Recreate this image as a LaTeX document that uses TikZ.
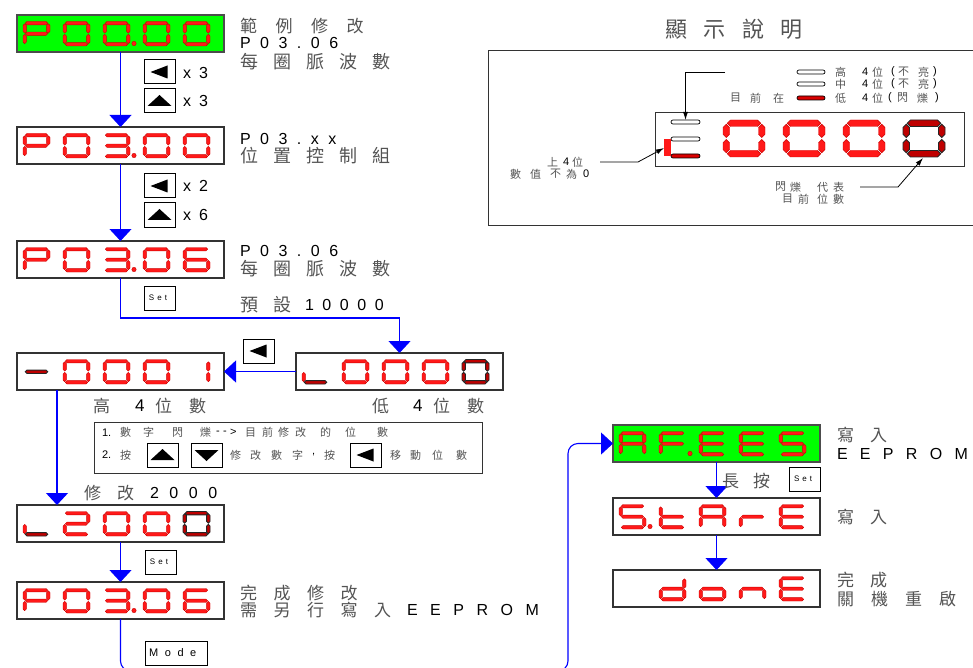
\documentclass[tikz,border=0pt]{standalone}
\usepackage{fontspec}
\setmainfont{Liberation Sans}
\newfontfamily\cjk{Noto Sans CJK TC}
\usetikzlibrary{arrows.meta,calc}
\definecolor{cjkc}{gray}{0.33}
\definecolor{boxc}{gray}{0.2}
\definecolor{segred}{RGB}{255,25,25}
\definecolor{segedge}{RGB}{205,0,0}

\makeatletter
\def\ls@end{\ls@end}
\newcommand\ls[2]{\def\ls@sp{#1}\edef\ls@arg{#2}\expandafter\ls@loop\ls@arg\ls@end}
\def\ls@loop#1{\ifx#1\ls@end\else\ls@char#1\hspace{\ls@sp}\expandafter\ls@loop\fi}
\def\ls@char#1{\ifx#1|\else{\ifnum`#1>"2E7F \cjk\color{cjkc}\fi#1}\fi}
\makeatother
\newcommand\fs[1]{\fontsize{#1}{#1}\selectfont}

% seven segment digits
\newcommand\dsize[4]{\def\dgw{#1}\def\dgh{#2}\def\dgt{#3}\def\dgg{#4}}
\newcommand\hsg[4]{\path[#1] (#3,#2) -- (#3+\hh,#2-\hh) -- (#4-\hh,#2-\hh) -- (#4,#2) -- (#4-\hh,#2+\hh) -- (#3+\hh,#2+\hh) -- cycle;}
\newcommand\vsg[4]{\path[#1] (#2,#3) -- (#2+\hh,#3+\hh) -- (#2+\hh,#4-\hh) -- (#2,#4) -- (#2-\hh,#4-\hh) -- (#2-\hh,#3+\hh) -- cycle;}
\def\sega#1{\hsg{#1}{\yT}{\xa}{\xb}}
\def\segb#1{\vsg{#1}{\xR}{\ya}{\yb}}
\def\segc#1{\vsg{#1}{\xR}{\yc}{\yd}}
\def\segd#1{\hsg{#1}{\yB}{\xa}{\xb}}
\def\sege#1{\vsg{#1}{\xL}{\yc}{\yd}}
\def\segf#1{\vsg{#1}{\xL}{\ya}{\yb}}
\def\segg#1{\hsg{#1}{\yM}{\xa}{\xb}}
\def\segn#1{}
\newcommand\digit[4]{%
 \begin{scope}[shift={(#1,#2)}]
 \pgfmathsetmacro\hh{\dgt/2}\pgfmathsetmacro\xL{\hh}\pgfmathsetmacro\xR{\dgw-\hh}%
 \pgfmathsetmacro\yT{\hh}\pgfmathsetmacro\yM{\dgh/2}\pgfmathsetmacro\yB{\dgh-\hh}%
 \pgfmathsetmacro\xa{\xL+\dgg}\pgfmathsetmacro\xb{\xR-\dgg}%
 \pgfmathsetmacro\ya{\yT+\dgg}\pgfmathsetmacro\yb{\yM-\dgg}%
 \pgfmathsetmacro\yc{\yM+\dgg}\pgfmathsetmacro\yd{\yB-\dgg}%
 \edef\litlist{#3}\edef\flalist{#4}%
 \foreach \s in \litlist {\csname seg\s\endcsname{lit}}
 \foreach \s in \flalist {\csname seg\s\endcsname{flash}}
 \end{scope}}
\newcommand\dpt[2]{\path[lit] (#1,#2) circle (2.2);}
\def\Zr{a,b,c,d,e,f}
\def\Pp{a,b,e,f,g}
\def\Th{a,b,c,d,g}
\def\Sx{a,c,d,e,f,g}
\def\Tw{a,b,d,e,g}
\def\Aa{a,b,c,e,f,g}
\def\Ff{a,e,f,g}
\def\Ee{a,d,e,f,g}
\def\Ss{a,c,d,f,g}
\def\Tt{d,e,f,g}
\def\Rr{e,g}
\def\Dd{b,c,d,e,g}
\def\Oo{c,d,e,g}
\def\Nn{c,e,g}

% buttons
\newcommand\kl[3]{\node[btn] (#1) at (#2,#3) {};
 \fill ($(#1.center)+(-9,0)$) -- ($(#1.center)+(8,-6.5)$) -- ($(#1.center)+(8,6.5)$) -- cycle;}
\newcommand\ku[3]{\node[btn] (#1) at (#2,#3) {};
 \fill ($(#1.center)+(-12,5)$) -- ($(#1.center)+(12,5)$) -- ($(#1.center)+(0,-6)$) -- cycle;}
\newcommand\kd[3]{\node[btn] (#1) at (#2,#3) {};
 \fill ($(#1.center)+(-12,-5)$) -- ($(#1.center)+(12,-5)$) -- ($(#1.center)+(0,6)$) -- cycle;}
\newcommand\chars[3]{\foreach \px/\pc in {#3} {\node[lab,font=\fs{#2}] at (\px,#1) {\ls{0pt}{\pc}};}}

\begin{document}
\begin{tikzpicture}[x=1pt,y=-1pt,
 dbox/.style={draw=boxc, line width=1.2pt, fill=white, minimum width=207pt, minimum height=37pt, inner sep=0pt, outer sep=0pt, anchor=north west},
 gbox/.style={dbox, fill=green, draw=black!70},
 btn/.style={draw=black, line width=1pt, fill=white, minimum width=31pt, minimum height=24pt, inner sep=0pt, outer sep=0pt, anchor=north west},
 conn/.style={draw=blue, line width=1.1pt, -{Triangle[width=22pt,length=12pt]}},
 lab/.style={anchor=west, inner sep=0pt, outer sep=0pt},
 note/.style={draw=black, line width=0.8pt, -{Latex[length=8pt,width=5pt]}},
 lit/.style={fill=segred, draw=segedge, line width=0.4pt},
 flash/.style={fill=red!75!black, draw=black!85, line width=0.9pt},
 pill/.style={draw=black, line width=0.7pt, fill=white, rounded corners=2pt},
 pillr/.style={draw=black, line width=0.7pt, fill=red!85!black, rounded corners=2pt}]
\useasboundingbox (0,0) rectangle (973,668);

% ---------- display boxes ----------
\node[gbox] (b1) at (17,15) {};
\node[dbox] (b2) at (17,127) {};
\node[dbox] (b3) at (17,241) {};
\node[dbox] (b4) at (17,353) {};
\node[dbox] (b5) at (296,353) {};
\node[dbox] (b6) at (17,505) {};
\node[dbox] (b7) at (17,582) {};
\node[gbox] (b8) at (613,425) {};
\node[dbox] (b9) at (613,498) {};
\node[dbox] (b10) at (613,570) {};

\dsize{27}{24.5}{3.4}{0.6}
% b1 P00.00
\digit{23}{21.5}{\Pp}{n}\digit{63}{21.5}{\Zr}{n}\digit{103}{21.5}{\Zr}{n}
\dpt{134}{43.5}\digit{143}{21.5}{\Zr}{n}\digit{183}{21.5}{\Zr}{n}
% b2 P03.00
\digit{23}{133.5}{\Pp}{n}\digit{63}{133.5}{\Zr}{n}\digit{103}{133.5}{\Th}{n}
\dpt{134}{155.5}\digit{143}{133.5}{\Zr}{n}\digit{183}{133.5}{\Zr}{n}
% b3 P03.06
\digit{23}{247.5}{\Pp}{n}\digit{63}{247.5}{\Zr}{n}\digit{103}{247.5}{\Th}{n}
\dpt{134}{269.5}\digit{143}{247.5}{\Zr}{n}\digit{183}{247.5}{\Sx}{n}
% b4 -0001
\digit{23}{359.5}{n}{g}\digit{63}{359.5}{\Zr}{n}\digit{103}{359.5}{\Zr}{n}
\digit{143}{359.5}{\Zr}{n}\digit{183}{359.5}{b,c}{n}
% b5 _0000
\digit{302}{359.5}{e}{d}\digit{342}{359.5}{\Zr}{n}\digit{382}{359.5}{\Zr}{n}
\digit{422}{359.5}{\Zr}{n}\digit{462}{359.5}{n}{\Zr}
% b6 _2000
\digit{23}{511.5}{e}{d}\digit{63}{511.5}{\Tw}{n}\digit{103}{511.5}{\Zr}{n}
\digit{143}{511.5}{\Zr}{n}\digit{183}{511.5}{n}{\Zr}
% b7 P03.06
\digit{23}{588.5}{\Pp}{n}\digit{63}{588.5}{\Zr}{n}\digit{103}{588.5}{\Th}{n}
\dpt{134}{610.5}\digit{143}{588.5}{\Zr}{n}\digit{183}{588.5}{\Sx}{n}
% b8 AF.EES
\digit{619}{431.5}{\Aa}{n}\digit{659}{431.5}{\Ff}{n}\dpt{690}{453.5}
\digit{699}{431.5}{\Ee}{n}\digit{739}{431.5}{\Ee}{n}\digit{779}{431.5}{\Ss}{n}
% b9 S.tArE
\digit{619}{504.5}{\Ss}{n}\dpt{650}{526.5}\digit{659}{504.5}{\Tt}{n}
\digit{699}{504.5}{\Aa}{n}\digit{739}{504.5}{\Rr}{n}\digit{779}{504.5}{\Ee}{n}
% b10 donE
\digit{659}{576.5}{\Dd}{n}\digit{699}{576.5}{\Oo}{n}\digit{739}{576.5}{\Nn}{n}\digit{779}{576.5}{\Ee}{n}

% ---------- connectors ----------
\draw[conn] (b1.south) -- (b2.north);
\draw[conn] (b2.south) -- (b3.north);
\draw[conn] (b3.south) -- ++(0,40) -| (b5.north);
\draw[conn] (b5.west) -- (b4.east);
\draw[conn] ([xshift=40pt]b4.south west) -- ([xshift=40pt]b6.north west);
\draw[conn] (b6.south) -- (b7.north);
\coordinate (loopB) at (568,671);
\draw[conn, rounded corners=10pt] (b7.south) |- (loopB) |- (b8.west);
\draw[conn] (b8.south) -- (b9.north);
\draw[conn] (b9.south) -- (b10.north);

% ---------- buttons ----------
\kl{k1}{144}{60}\ku{k2}{144}{89}
\kl{k3}{144}{174}\ku{k4}{144}{203}
\node[btn,font=\fs{8}] (s1) at (144,286) {\ls{3pt}{Set}\hspace{-3pt}};
\kl{k5}{243}{339}
\node[btn,font=\fs{8}] (s2) at (145,550) {\ls{3pt}{Set}\hspace{-3pt}};
\node[btn,minimum width=62pt,font=\fs{11}] (m1) at (145,641) {\ls{6.5pt}{Mode}\hspace{-6.5pt}};
\node[btn,font=\fs{8}] (s3) at (789,467) {\ls{3pt}{Set}\hspace{-3pt}};

% ---------- left labels ----------
\node[lab,font=\fs{17}] (t1) at (240,26) {\ls{18.5pt}{範例修改}};
\node[lab,font=\fs{16}] (t2) at (240,42.5) {\ls{9.5pt}{P03.06}};
\node[lab,font=\fs{18}] (t3) at (240,61.5) {\ls{15pt}{每圈脈波數}};
\node[lab,font=\fs{16}] (x1) at (183,72.5) {x\hspace{8pt}3};
\node[lab,font=\fs{16}] (x2) at (183,101) {x\hspace{8pt}3};
\node[lab,font=\fs{16}] (t4) at (240,139) {\ls{9.5pt}{P03.xx}};
\node[lab,font=\fs{18}] (t5) at (240,155.5) {\ls{15pt}{位置控制組}};
\node[lab,font=\fs{16}] (x3) at (183,186) {x\hspace{8pt}2};
\node[lab,font=\fs{16}] (x4) at (183,215) {x\hspace{8pt}6};
\node[lab,font=\fs{16}] (t6) at (240,251) {\ls{9.5pt}{P03.06}};
\node[lab,font=\fs{18}] (t7) at (240,269) {\ls{15pt}{每圈脈波數}};
\node[lab,font=\fs{18}] (t8) at (240,305) {\ls{15pt}{預設}};
\node[lab,font=\fs{16}] (t9) at (305,305) {\ls{8.6pt}{10000}};

\chars{406}{17}{93/高, 135/4, 155/位, 189/數}
\chars{406}{17}{372/低, 413/4, 433/位, 467/數}

% instruction box
\node[draw=black!80, line width=1pt, anchor=north west, minimum width=388pt, minimum height=51pt, inner sep=0pt] (ins) at (94,422) {};
\chars{432.5}{11}{102/1., 120/數, 143/字, 172/閃, 200/爍, 216/-, 223/-, 230/>, 245/目, 262/前, 278/修, 295/改, 320/的, 345/位, 377/數}
\ku{k6}{147}{443}\kd{k7}{191}{443}\kl{k8}{350}{443}
\chars{455}{11}{102/2., 120/按, 230/修, 250/改, 271/數, 292/字, 312/{,}, 324/按, 390/移, 410/動, 432/位, 456/數}

\chars{493}{17}{84/修, 117/改}
\node[lab,font=\fs{16}] (t10) at (150,493) {\ls{10.6pt}{2000}};
\node[lab,font=\fs{17}] (t11) at (240,593) {\ls{16.5pt}{完成修改}};
\node[lab,font=\fs{17}] (t12) at (240,610) {\ls{16.5pt}{需另行寫入}};
\node[lab,font=\fs{16}] (t13) at (407,610) {\ls{12.5pt}{EEPROM}};

% ---------- right labels ----------
\node[lab,font=\fs{17}] (r1) at (837,435) {\ls{16pt}{寫入}};
\node[lab,font=\fs{16}] (r2) at (837,454) {\ls{12.3pt}{EEPROM}};
\node[lab,font=\fs{17}] (r3) at (722,481) {\ls{14pt}{長按}};
\node[lab,font=\fs{17}] (r4) at (837,517) {\ls{16pt}{寫入}};
\node[lab,font=\fs{17}] (r5) at (837,580) {\ls{16pt}{完成}};
\node[lab,font=\fs{17}] (r6) at (837,599) {\ls{17pt}{關機重啟}};

% ---------- legend ----------
\node[lab,font=\fs{22}] (ttl) at (665,29) {\ls{16.5pt}{顯示說明}};
\node[draw=boxc, line width=1.2pt, anchor=north west, minimum width=500pt, minimum height=175pt, inner sep=0pt] (lg) at (488,50) {};
\node[draw=boxc, line width=1.2pt, anchor=north west, minimum width=309pt, minimum height=54pt, inner sep=0pt] (ld) at (655,112) {};

\dsize{42}{37}{6.5}{1}
\digit{723}{120}{\Zr}{n}\digit{783}{120}{\Zr}{n}\digit{843}{120}{\Zr}{n}\digit{903}{120}{n}{\Zr}

\path[pill] (671,120) rectangle (700,124);
\path[pill] (671,137) rectangle (700,141);
\path[pillr] (671,154) rectangle (700,158);
\fill[segred] (664,139) rectangle (671,156);

\path[pill] (797,70) rectangle (825,74);
\path[pill] (797,82) rectangle (825,86);
\path[pillr] (797,96) rectangle (825,100);

\chars{72}{11}{835/高, 862/4, 872/位, 891/(, 898/不, 918/亮, 933/)}
\chars{84}{11}{835/中, 862/4, 872/位, 891/(, 898/不, 918/亮, 933/)}
\chars{98}{11}{730/目, 750/前, 773/在, 835/低, 862/4, 872/位, 888/(, 897/閃, 917/爍, 935/)}
\chars{162}{11}{547/上, 563/4, 572/位}
\chars{174}{11}{510/數, 530/值, 550/不, 566/為, 583/0}
\chars{187}{11}{775/閃, 790/爍, 817/代, 833/表}
\chars{199}{11}{782/目, 798/前, 817/位, 833/數}

\coordinate (n1) at (725,72);
\coordinate (n1e) at (685.5,120);
\draw[note] (n1) -| (n1e);
\coordinate (n2) at (600,162);
\coordinate (n2a) at (638,162);
\coordinate (n2e) at (664,148);
\draw[note] (n2) -- (n2a) -- (n2e);
\coordinate (n3) at (860,187);
\coordinate (n3a) at (898,187);
\coordinate (n3e) at (923,158);
\draw[note] (n3) -- (n3a) -- (n3e);
\end{tikzpicture}
\end{document}
